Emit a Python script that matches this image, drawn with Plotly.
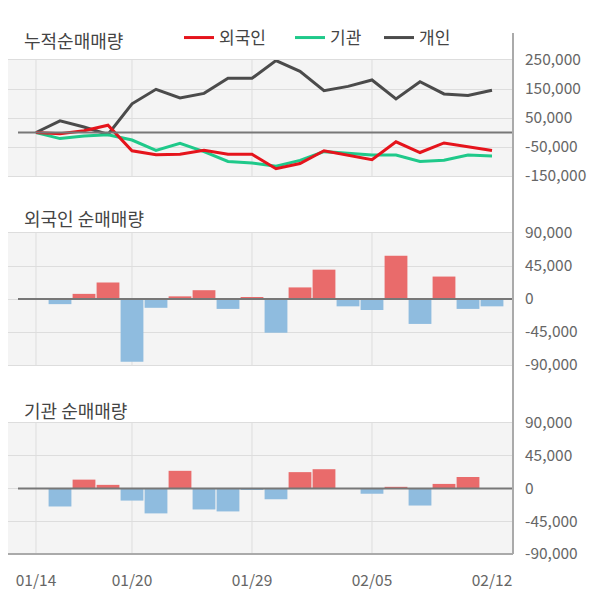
import plotly.graph_objects as go
from plotly.subplots import make_subplots

dates = ["01/14", "01/15", "01/16", "01/17", "01/20", "01/21", "01/22", "01/23",
         "01/28", "01/29", "01/30", "01/31", "02/03", "02/04", "02/05", "02/06",
         "02/07", "02/10", "02/11", "02/12"]

# cumulative net buying
cum_foreign = [0, -4000, 6000, 25000, -63000, -77000, -75000, -61000, -75000, -75000,
               -125000, -107000, -63000, -79000, -94000, -32000, -69000, -36000, -48000, -62000]
cum_inst = [0, -21000, -12000, -8000, -26000, -62000, -37000, -66000, -100000, -105000,
            -116000, -96000, -66000, -73000, -78000, -78000, -100000, -96000, -78000, -81000]
cum_indiv = [0, 40000, 19000, -7000, 99000, 149000, 119000, 135000, 187000, 187000,
             248000, 211000, 144000, 159000, 181000, 116000, 175000, 133000, 128000, 146000]

# daily net buying
foreign_daily = [0, -7000, 7000, 22500, -85500, -12000, 3600, 12000, -13500, 2300,
                 -46000, 15800, 40000, -10000, -15000, 59000, -34000, 30600, -13500, -10000]
inst_daily = [0, -24700, 12200, 5000, -16600, -34200, 24300, -28800, -31500, -2000,
              -14800, 22500, 26500, 0, -7200, 2300, -23400, 6300, 15800, 0]

tick_dates = ["01/14", "01/20", "01/29", "02/05", "02/12"]
grid_dates = ["01/14", "01/20", "01/29", "02/05"]

RED_LINE = "#e5141c"
GREEN_LINE = "#1fc98a"
GRAY_LINE = "#4b4b4b"
RED_BAR = "#e96b6b"
BLUE_BAR = "#8fbcdf"
FONT = "Noto Sans CJK KR"

# the page body adds an 8px margin, so the figure is 8px smaller each way
OFF = 8
W, H = 600 - OFF, 604 - OFF


def px(x):
    return (x - OFF) / W


def py(y):
    return (H - (y - OFF)) / H


fig = make_subplots(rows=3, cols=1)

fig.add_trace(go.Scatter(x=dates, y=cum_indiv, mode="lines", name="개인", legend="legend3",
                         line=dict(color=GRAY_LINE, width=3)), row=1, col=1)
fig.add_trace(go.Scatter(x=dates, y=cum_inst, mode="lines", name="기관", legend="legend2",
                         line=dict(color=GREEN_LINE, width=3)), row=1, col=1)
fig.add_trace(go.Scatter(x=dates, y=cum_foreign, mode="lines", name="외국인", legend="legend",
                         line=dict(color=RED_LINE, width=3)), row=1, col=1)

for row, vals in [(2, foreign_daily), (3, inst_daily)]:
    fig.add_trace(go.Bar(x=dates, y=vals, showlegend=False,
                         marker=dict(color=[RED_BAR if v >= 0 else BLUE_BAR for v in vals],
                                     line=dict(width=0))),
                  row=row, col=1)

xdom = [0, px(513)]
xr = [(OFF - 36) / 24, 19.875]
common_x = dict(type="category", range=xr, domain=xdom, showgrid=False,
                showline=True, linecolor="#dddddd", linewidth=1, mirror=True,
                zeroline=False, fixedrange=True, automargin=False)
fig.update_layout(
    xaxis=dict(common_x, showticklabels=False),
    xaxis2=dict(common_x, showticklabels=False),
    xaxis3=dict(common_x, tickvals=tick_dates, ticks="",
                tickfont=dict(family=FONT, size=15.5, color="#666666"),
                ticklabelstandoff=12),
)

ytick_font = dict(family=FONT, size=15.5, color="#666666")
bar_ticks = [-90000, -45000, 0, 45000, 90000]
bar_text = ["-90,000", "-45,000", "0", "45,000", "90,000"]
fig.update_layout(
    yaxis=dict(domain=[py(176), py(60)], range=[-150000, 250000], side="right",
               tickvals=[-150000, -50000, 50000, 150000, 250000],
               ticktext=["-150,000", "-50,000", "50,000", "150,000", "250,000"],
               gridcolor="#dddddd", zeroline=False, tickfont=ytick_font,
               ticklabelstandoff=11, automargin=False),
    yaxis2=dict(domain=[py(365), py(233)], range=[-90000, 90000], side="right",
                tickvals=bar_ticks, ticktext=bar_text,
                gridcolor="#dddddd", zeroline=False, tickfont=ytick_font,
                ticklabelstandoff=11, automargin=False),
    yaxis3=dict(domain=[py(554), py(423)], range=[-90000, 90000], side="right",
                tickvals=bar_ticks, ticktext=bar_text,
                gridcolor="#dddddd", zeroline=False, tickfont=ytick_font,
                ticklabelstandoff=11, automargin=False),
)

shapes = []
for i in ["", "2", "3"]:
    for d in grid_dates:
        shapes.append(dict(type="line", xref="x" + i, yref="y" + i + " domain",
                           x0=d, x1=d, y0=0, y1=1, layer="below",
                           line=dict(color="#dddddd", width=1)))
    shapes.append(dict(type="line", xref="x" + i, yref="y" + i,
                       x0=-0.75, x1=xr[1], y0=0, y1=0,
                       line=dict(color="#777777", width=2)))
# right axis line and bottom border
shapes.append(dict(type="line", xref="paper", yref="paper",
                   x0=xdom[1], x1=xdom[1], y0=py(554), y1=py(33),
                   line=dict(color="#aaaaaa", width=2)))
shapes.append(dict(type="line", xref="paper", yref="paper",
                   x0=0, x1=xdom[1], y0=py(554), y1=py(554),
                   line=dict(color="#aaaaaa", width=2)))

titles = [("누적순매매량", 40), ("외국인 순매매량", 218), ("기관 순매매량", 410)]
annotations = [dict(text=t, xref="paper", yref="paper", x=px(22), y=py(y),
                    xanchor="left", yanchor="middle", showarrow=False,
                    font=dict(family=FONT, size=18, color="#444444"))
               for t, y in titles]

leg_font = dict(family=FONT, size=17, color="#444444")


def leg(x):
    return dict(orientation="h", x=px(x), y=py(38), xanchor="left", yanchor="middle",
                font=leg_font, bgcolor="rgba(0,0,0,0)")


fig.update_layout(
    template="none",
    width=W, height=H,
    margin=dict(l=0, r=0, t=0, b=0),
    paper_bgcolor="white",
    plot_bgcolor="#f4f4f4",
    bargap=0.05,
    shapes=shapes,
    annotations=annotations,
    showlegend=True,
    legend=leg(179),
    legend2=leg(290),
    legend3=leg(379),
)

fig.write_html("out.html")
